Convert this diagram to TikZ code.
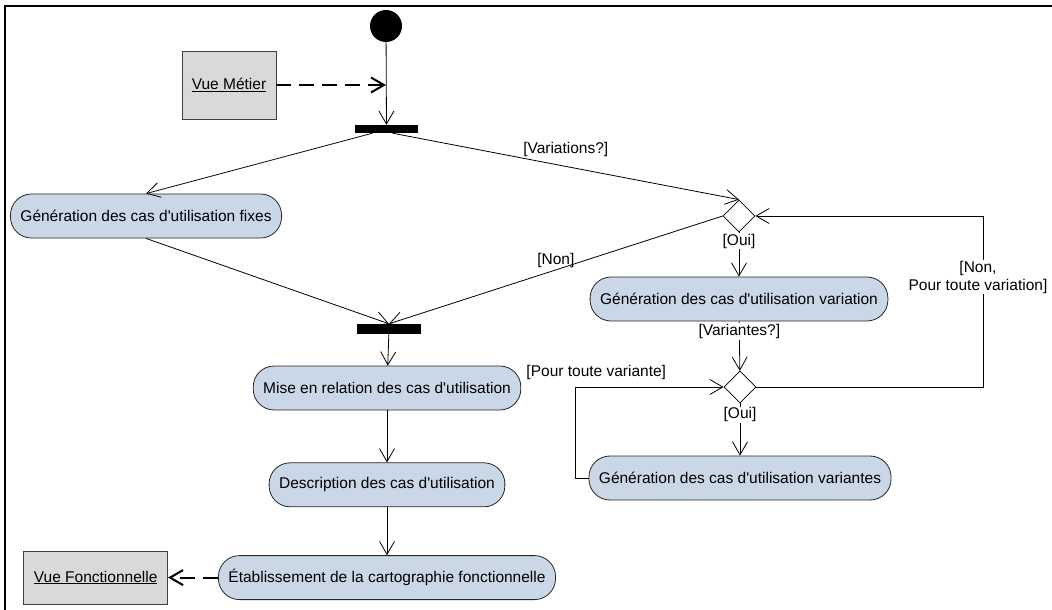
\documentclass[tikz,border=0pt]{standalone}
\usepackage{fontspec}
\setmainfont{Liberation Sans}
\usepackage{xcolor}
\usepackage{tikz}
\usetikzlibrary{shapes.geometric, arrows.meta, positioning}

\definecolor{actblue}{RGB}{202,215,230}
\definecolor{objgray}{RGB}{217,217,217}

\begin{document}
\begin{tikzpicture}[
  x=1pt, y=-1pt,
  >={Straight Barb[length=13pt,width=15pt]},
  every node/.style={font=\fontsize{15.5}{18}\selectfont},
  action/.style={rectangle, draw=black!85, line width=0.8pt, fill=actblue, rounded corners=21pt, minimum height=44pt, inner xsep=10pt},
  objbox/.style={rectangle, draw=black!75, line width=0.8pt, fill=objgray},
  bar/.style={rectangle, fill=black, inner sep=0pt, minimum width=63pt, minimum height=8pt},
  decision/.style={diamond, draw, line width=0.8pt, fill=white, inner sep=0pt, minimum width=32pt, minimum height=32pt},
  initial/.style={circle, fill=black, inner sep=0pt, minimum size=32pt},
  guard/.style={inner sep=1pt},
  objflow/.style={dash pattern=on 15pt off 8pt, line width=2pt},
  flow/.style={->, line width=0.8pt},
]
  \useasboundingbox (0,0) rectangle (1052,610);
  % frame
  \draw[line width=2.5pt] (5,610) -- (5,6) -- (1052,6);

  % left column
  \node[initial] (start) at (386,26) {};
  \node[objbox, minimum width=94pt, minimum height=68pt] (metier) at (229,85) {\underline{Vue Métier}};
  \coordinate (metierin) at (start |- metier);
  \node[bar] (fork1) at (386.5,129) {};
  \node[action] (fixes) at (146,216) {Génération des cas d\textquotesingle utilisation fixes};
  \node[bar, minimum width=64pt, minimum height=10pt] (fork2) at (389,329) {};
  \node[action] (relation) at (387,388) {Mise en relation des cas d\textquotesingle utilisation};
  \node[action, below=52pt of relation] (descr) {Description des cas d\textquotesingle utilisation};
  \node[action, below=48pt of descr] (carto) {Établissement de la cartographie fonctionnelle};
  \node[objbox, minimum width=144pt, minimum height=53pt, left=50pt of carto] (fonct) {\underline{Vue Fonctionnelle}};

  % right column
  \node[decision] (dec1) at (739,216) {};
  \node[action] (variation) at (739,299) {Génération des cas d\textquotesingle utilisation variation};
  \node[decision] (dec2) at (740,387) {};
  \node[action] (variantes) at (740,478) {Génération des cas d\textquotesingle utilisation variantes};
  \coordinate (loopright) at (983,277);

  \draw[flow] (start) -- (fork1);
  \draw[->, objflow] (metier) -- (metierin);
  \draw[flow] ([xshift=-14pt]fork1.south) -- (fixes.north);
  \draw[flow] ([xshift=6pt]fork1.south) -- node[guard, above=8pt]{[Variations?]} (dec1.north);
  \draw[flow] (fixes.south) -- (fork2.north);
  \draw[flow] (dec1.west) -- node[guard, above=1pt]{[Non]} (fork2.north);
  \draw[flow] (fork2) -- (relation);
  \draw[flow] (relation) -- (descr);
  \draw[flow] (descr) -- (carto);
  \draw[->, objflow] (carto) -- (fonct);
  \draw[flow] (dec1) -- node[guard, fill=white, pos=.2]{[Oui]} (variation);
  \draw[flow] (variation) -- node[guard, fill=white, pos=.2]{[Variantes?]} (dec2);
  \draw[flow] (dec2) -- node[guard, fill=white, pos=.22]{[Oui]} (variantes);
  \draw[flow] (variantes.west) -- ++(-13pt,0) |- node[guard, pos=.57, above=6pt]{[Pour toute variante]} (dec2.west);
  \draw[flow] (dec2.east) -| (loopright) node[guard, fill=white, align=center, xshift=-5pt]{[Non,\\Pour toute variation]} |- (dec1.east);
\end{tikzpicture}
\end{document}
